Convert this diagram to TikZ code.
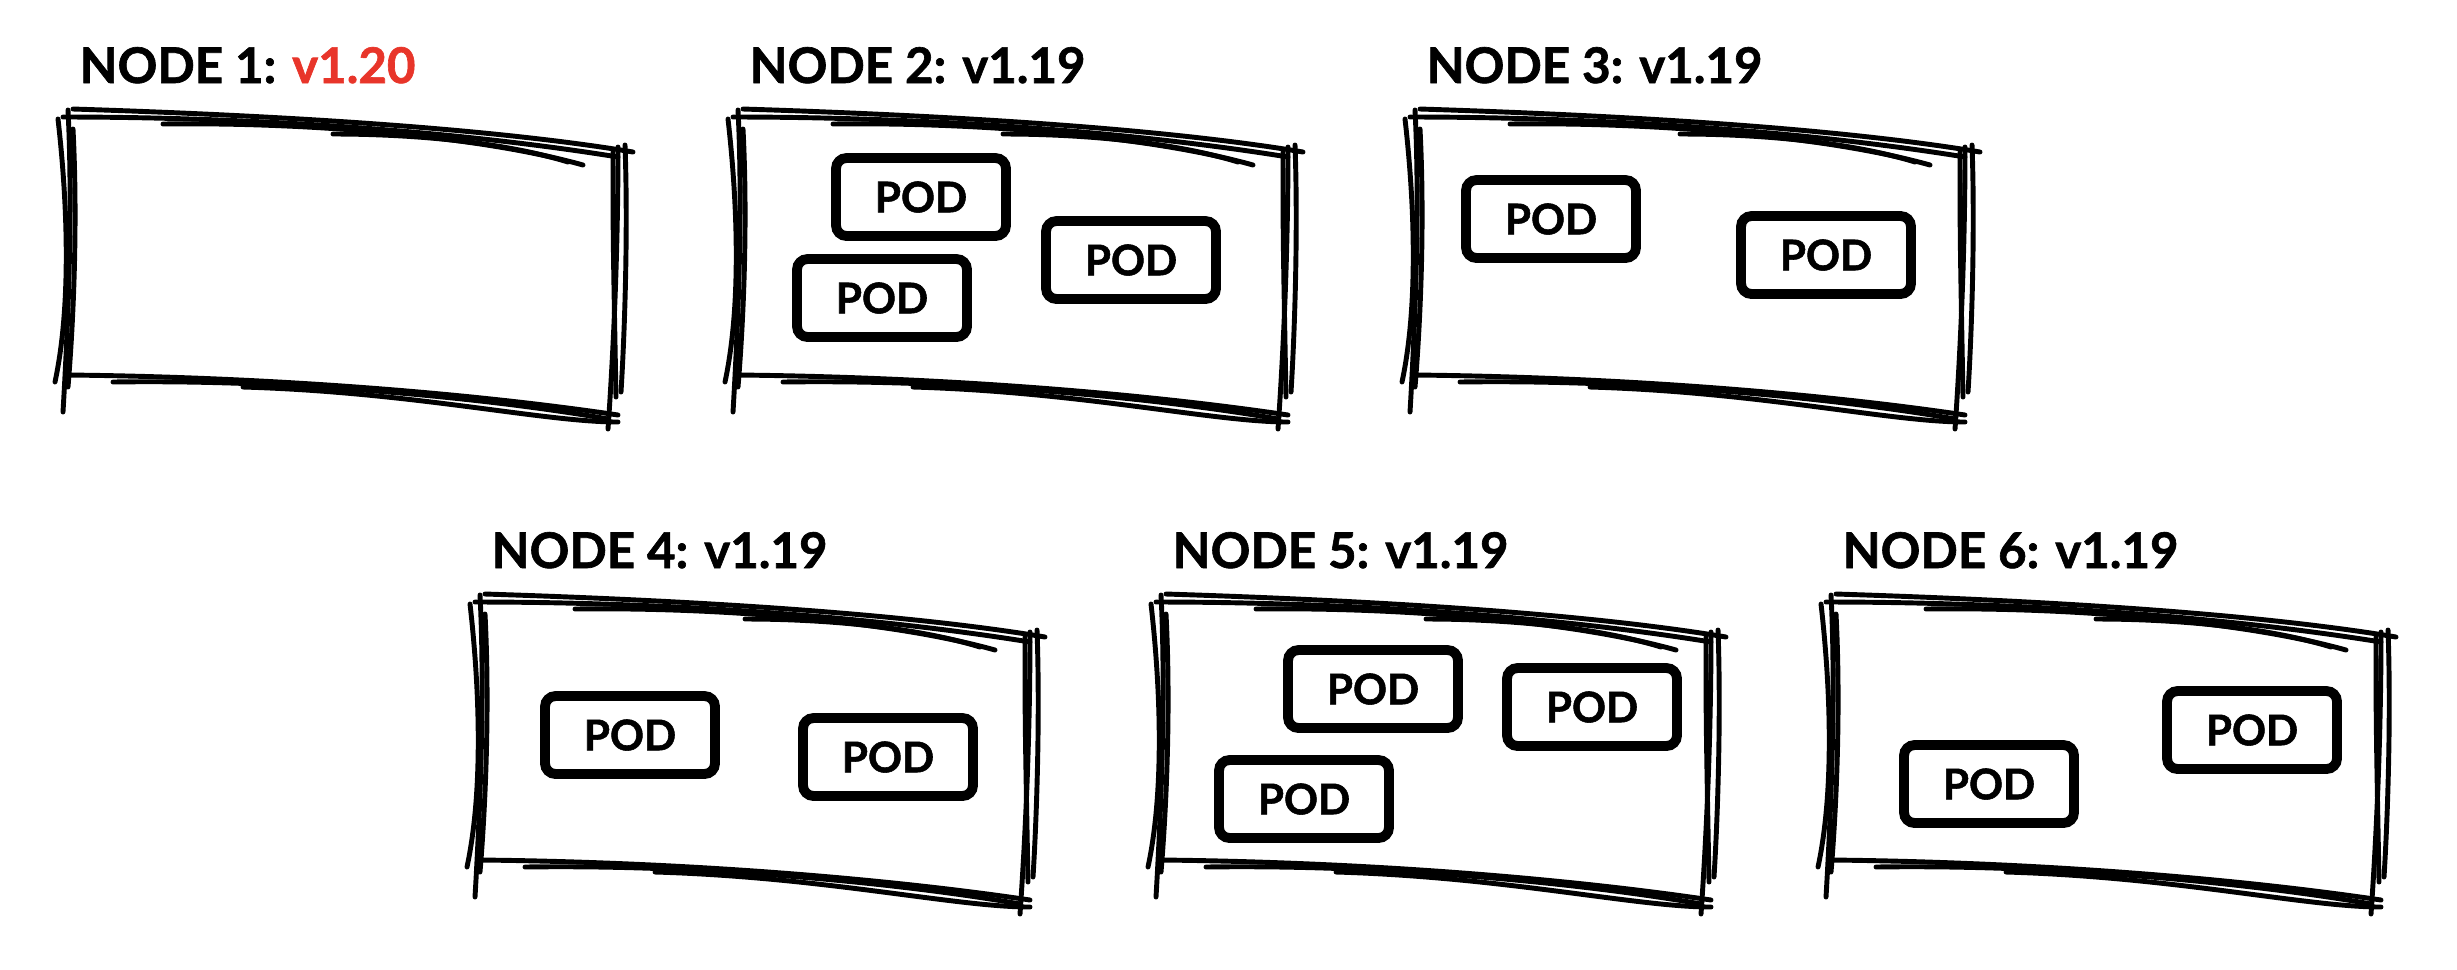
\documentclass[tikz,border=0pt]{standalone}
\usepackage{fontspec}
\setmainfont{Lato}[BoldFeatures={FakeBold=1.3}]
\usetikzlibrary{positioning}
\definecolor{verred}{RGB}{232,53,42}
\tikzset{
  sketch/.pic={
    \begin{scope}[line width=1.4pt,line cap=round]
    % top
    \draw (0.10,-0.02) .. controls (2.0,-0.08) and (4.2,-0.20) .. (5.70,-0.45);
    \draw (0.00,-0.10) .. controls (2.0,-0.10) and (4.0,-0.25) .. (5.55,-0.50);
    \draw (1.00,-0.17) .. controls (2.5,-0.15) and (4.2,-0.30) .. (5.20,-0.58);
    \draw (2.70,-0.27) .. controls (3.5,-0.27) and (4.4,-0.35) .. (5.05,-0.55);
    % left
    \draw (0.05,-0.03) .. controls (0.10,-1.0) and (0.05,-2.2) .. (0.00,-3.05);
    \draw (-0.05,-0.12) .. controls (0.05,-1.0) and (0.08,-2.0) .. (-0.08,-2.75);
    \draw (0.10,-0.22) .. controls (0.15,-1.2) and (0.10,-2.2) .. (0.05,-2.80);
    % bottom
    \draw (0.05,-2.68) .. controls (2.0,-2.70) and (4.0,-2.85) .. (5.55,-3.08);
    \draw (0.50,-2.75) .. controls (2.5,-2.72) and (4.5,-2.95) .. (5.45,-3.12);
    \draw (1.80,-2.80) .. controls (3.5,-2.85) and (4.8,-3.15) .. (5.55,-3.15);
    % right
    \draw (5.55,-0.40) .. controls (5.55,-1.5) and (5.50,-2.5) .. (5.45,-3.22);
    \draw (5.62,-0.38) .. controls (5.65,-1.2) and (5.62,-2.2) .. (5.58,-2.85);
    \draw (5.50,-0.45) .. controls (5.50,-1.3) .. (5.53,-2.90);
    \end{scope}
  },
  hostbox/.style={minimum width=5.67cm,minimum height=3.17cm,inner sep=0pt,anchor=north west},
  hostlabel/.style={anchor=base west,inner sep=0pt,font=\fontsize{14}{16}\selectfont\bfseries},
  pod/.style={draw,line width=2.8pt,rounded corners=3pt,minimum width=1.70cm,minimum height=0.78cm,inner sep=0pt,font=\fontsize{12}{14}\selectfont\bfseries}
}
\begin{document}
\begin{tikzpicture}
\useasboundingbox (0,0) rectangle (24.57,-9.69);
% top row
\node[hostbox](N1) at (0.63,-1.07){};
\pic at (N1.north west) {sketch};
\node[hostlabel](L1) at ([xshift=0.16cm,yshift=0.24cm]N1.north west){NODE 1: \textcolor{verred}{v1.20}};
\node[hostbox](N2) at (7.33,-1.07){};
\pic at (N2.north west) {sketch};
\node[hostlabel](L2) at ([xshift=0.16cm,yshift=0.24cm]N2.north west){NODE 2: v1.19};
\node[pod](P21) at (9.21,-1.97){POD};
\node[pod](P22) at (8.82,-2.98){POD};
\node[pod](P23) at (11.31,-2.60){POD};
\node[hostbox](N3) at (14.10,-1.07){};
\pic at (N3.north west) {sketch};
\node[hostlabel](L3) at ([xshift=0.16cm,yshift=0.24cm]N3.north west){NODE 3: v1.19};
\node[pod](P31) at (15.51,-2.19){POD};
\node[pod](P32) at (18.26,-2.55){POD};
% bottom row
\node[hostbox](N4) at (4.75,-5.92){};
\pic at (N4.north west) {sketch};
\node[hostlabel](L4) at ([xshift=0.16cm,yshift=0.24cm]N4.north west){NODE 4: v1.19};
\node[pod](P41) at (6.30,-7.35){POD};
\node[pod](P42) at (8.88,-7.57){POD};
\node[hostbox](N5) at (11.56,-5.92){};
\pic at (N5.north west) {sketch};
\node[hostlabel](L5) at ([xshift=0.16cm,yshift=0.24cm]N5.north west){NODE 5: v1.19};
\node[pod](P51) at (13.73,-6.89){POD};
\node[pod](P52) at (15.92,-7.07){POD};
\node[pod](P53) at (13.04,-7.99){POD};
\node[hostbox](N6) at (18.26,-5.92){};
\pic at (N6.north west) {sketch};
\node[hostlabel](L6) at ([xshift=0.16cm,yshift=0.24cm]N6.north west){NODE 6: v1.19};
\node[pod](P61) at (22.52,-7.30){POD};
\node[pod](P62) at (19.89,-7.84){POD};
\end{tikzpicture}
\end{document}
